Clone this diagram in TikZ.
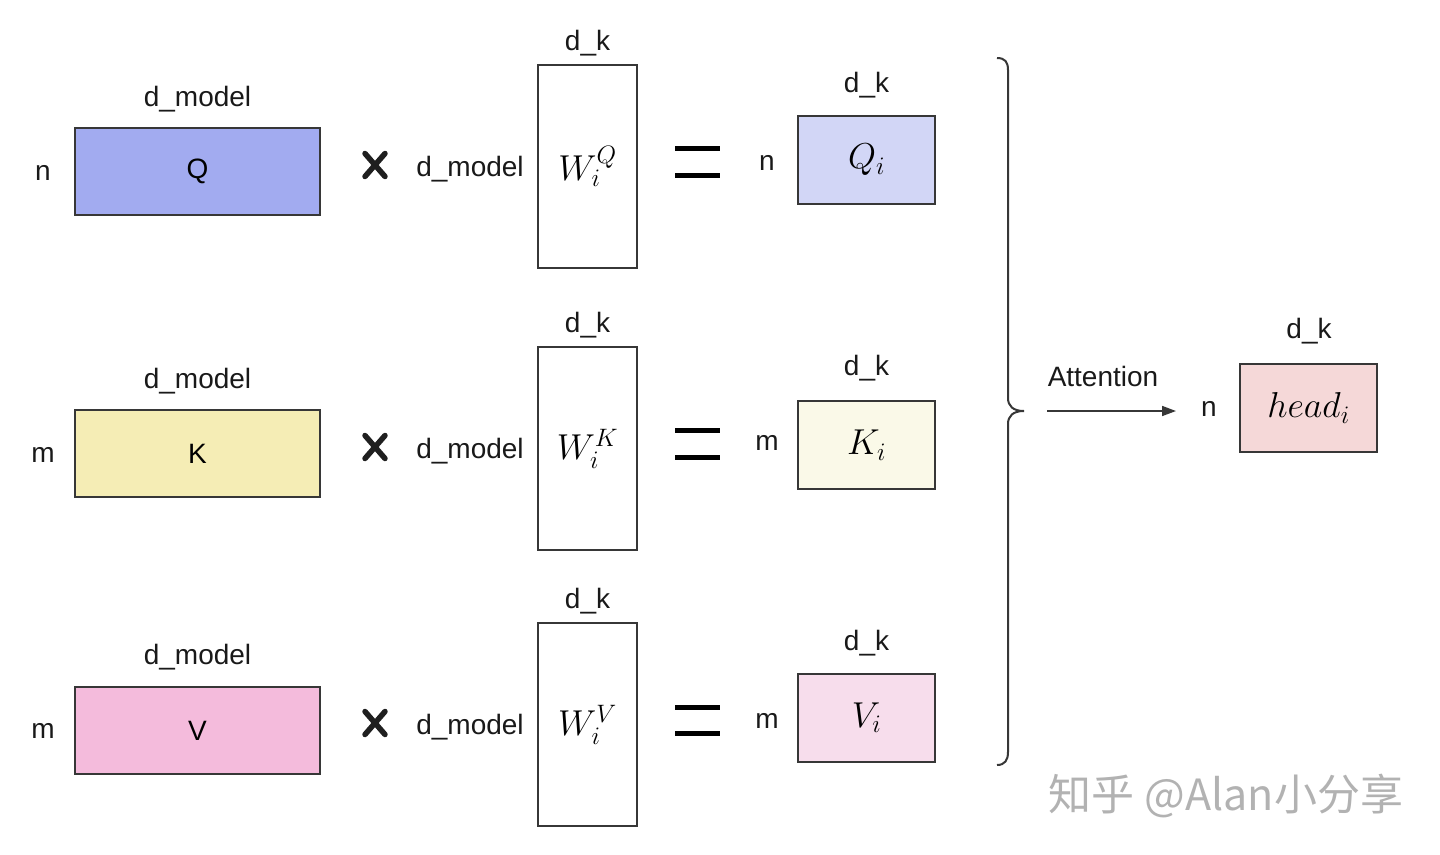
\documentclass[tikz,border=0pt]{standalone}
\usepackage{fix-cm}
\usepackage{fontspec}
\setmainfont{Liberation Sans}
\newfontfamily\cjk{Noto Sans CJK SC}
\usetikzlibrary{arrows.meta}
\definecolor{boxline}{RGB}{55,55,55}
\definecolor{qfill}{RGB}{162,171,240}
\definecolor{kfill}{RGB}{245,237,181}
\definecolor{vfill}{RGB}{244,187,220}
\definecolor{qifill}{RGB}{210,214,246}
\definecolor{kifill}{RGB}{250,249,232}
\definecolor{vifill}{RGB}{247,221,236}
\definecolor{hfill}{RGB}{245,216,216}
\definecolor{wmark}{RGB}{178,178,178}
\begin{document}
\begin{tikzpicture}[x=1pt,y=-1pt,
  box/.style={draw=boxline, line width=2pt, inner sep=0pt, font=\fontsize{28}{32}\selectfont},
  wbox/.style={box, minimum width=99pt, minimum height=203pt, font=\fontsize{36}{40}\selectfont},
  inbox/.style={box, minimum width=245pt, minimum height=87pt},
  outbox/.style={box, minimum width=137pt, minimum height=88pt, font=\fontsize{36}{40}\selectfont},
  lab/.style={inner sep=0pt, font=\fontsize{28}{32}\selectfont, text=black!90},
  dimlab/.style={lab, anchor=base},
  crossline/.style={line width=5.5pt, line cap=round, black!88},
  eqbar/.style={line width=5pt, black},
  bracestyle/.style={draw=boxline, line width=2pt},
  arr/.style={draw=boxline, line width=1.6pt, -{Triangle[length=14pt,width=10pt]}}]
\useasboundingbox (0,0) rectangle (1440,854);

% ---- input matrices
\node[inbox, fill=qfill] (Q) at (197.5,171.5) {Q};
\node[inbox, fill=kfill] (K) at (197.5,453.5) {K};
\node[inbox, fill=vfill] (V) at (197.5,730.5) {V};
\node[dimlab] (Qdm) at (197.5,106) {d\_model};
\node[dimlab] (Kdm) at (197.5,388) {d\_model};
\node[dimlab] (Vdm) at (197.5,664) {d\_model};
\node[lab] (Qn) at (43,173) {n};
\node[lab] (Km) at (43,455) {m};
\node[lab] (Vm) at (43,731) {m};

% ---- times signs
\foreach \y in {165,447,723}{
  \draw[crossline] (365,{\y-11.5}) -- (385,{\y+11.5});
  \draw[crossline] (385,{\y-11.5}) -- (365,{\y+11.5});
}

% ---- weight matrices
\node[wbox] (WQ) at (587.5,166.5) {$W_i^Q$};
\node[wbox] (WK) at (587.5,448.5) {$W_i^K$};
\node[wbox] (WV) at (587.5,724.5) {$W_i^V$};
\node[dimlab] (WQk) at (587.5,50) {d\_k};
\node[dimlab] (WKk) at (587.5,332) {d\_k};
\node[dimlab] (WVk) at (587.5,608) {d\_k};
\node[dimlab] (WQd) at (470,176) {d\_model};
\node[dimlab] (WKd) at (470,458) {d\_model};
\node[dimlab] (WVd) at (470,734) {d\_model};

% ---- equals
\foreach \y in {148,175,430,457,707,733}{
  \draw[eqbar] (675,\y) -- (720,\y);
}

% ---- outputs
\node[outbox, fill=qifill] (Qi) at (866.5,160) {$Q_i$};
\node[outbox, fill=kifill] (Ki) at (866.5,445) {$K_i$};
\node[outbox, fill=vifill] (Vi) at (866.5,717.5) {$V_i$};
\node[dimlab] (Qik) at (866.5,92) {d\_k};
\node[dimlab] (Kik) at (866.5,375) {d\_k};
\node[dimlab] (Vik) at (866.5,650) {d\_k};
\node[lab] (Qin) at (767,163) {n};
\node[lab] (Kim) at (767,443) {m};
\node[lab] (Vim) at (767,721) {m};

% ---- brace
\draw[bracestyle] (997,58) .. controls (1005,58) and (1008,62) .. (1008,70)
  -- (1008,398) .. controls (1008,406) and (1013,411) .. (1024,411)
  .. controls (1013,411) and (1008,416) .. (1008,424)
  -- (1008,752) .. controls (1008,760) and (1005,765) .. (997,765);

% ---- attention arrow and head
\coordinate (as) at (1047,411);
\coordinate (ae) at (1176,411);
\draw[arr] (as) -- (ae);
\node[dimlab] (att) at (1103,386) {Attention};
\node[lab] (hn) at (1209,409) {n};
\node[outbox, fill=hfill] (head) at (1308.5,408) {$head_i$};
\node[dimlab] (hk) at (1309,338) {d\_k};

% ---- watermark
\node[inner sep=0pt, text=wmark, font=\cjk\fontsize{43}{48}\selectfont] (wm) at (1226,796) {知乎 @Alan小分享};
\end{tikzpicture}
\end{document}
